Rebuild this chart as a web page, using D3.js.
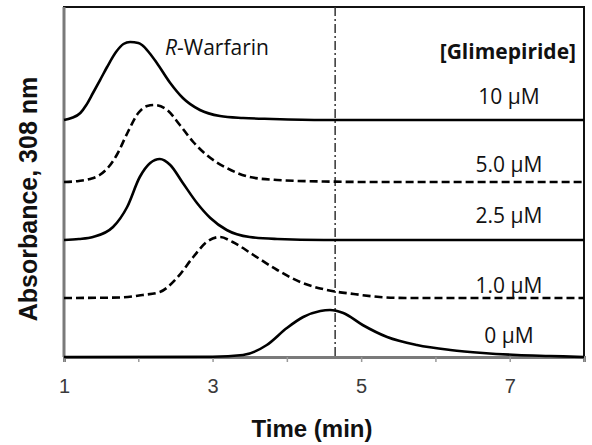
<!DOCTYPE html>
<html>
<head>
<meta charset="utf-8">
<script src="https://cdn.jsdelivr.net/npm/d3@7"></script>
<style>
body { margin: 0; background: #fff; }
</style>
</head>
<body>
<div id="chart"></div>
<script>
// x axis (min)
var timeTicks = [1, 2, 3, 4, 5, 6, 7, 8];
var timeLabels = [1, 3, 5, 7];

// glimepiride concentration of each trace, top trace first
var concLabels = ["10 µM", "5.0 µM", "2.5 µM", "1.0 µM", "0 µM"];
// stacked baseline of each trace (arbitrary absorbance units)
var offsets = [237, 175, 117, 59, 0];

// [time, signal above own baseline]
var trace10 = [[1.0, 0], [1.1, 2], [1.22, 7], [1.3, 15], [1.39, 27], [1.5, 42], [1.58, 53], [1.7, 68],
  [1.8, 76], [1.89, 78], [2.0, 77], [2.05, 75], [2.15, 67], [2.25, 57], [2.43, 37], [2.6, 22],
  [2.83, 10], [3.1, 4], [3.41, 2], [3.8, 1], [4.5, 0], [8.0, 0]];
var trace5 = [[1.0, 0], [1.2, 1], [1.35, 3], [1.48, 7], [1.6, 15], [1.71, 27], [1.86, 50], [2.0, 69],
  [2.12, 76], [2.22, 77], [2.39, 72], [2.56, 57], [2.74, 40], [2.92, 27], [3.19, 14], [3.5, 5],
  [3.87, 2], [4.5, 0.5], [5.2, 0], [8.0, 0]];
var trace25 = [[1.0, 0], [1.2, 1], [1.39, 3], [1.66, 13], [1.85, 33], [2.02, 63], [2.16, 77], [2.29, 81],
  [2.43, 75], [2.6, 57], [2.79, 37], [2.97, 22], [3.19, 10], [3.5, 3], [3.87, 1], [4.5, 0], [8.0, 0]];
var trace1 = [[1.0, 0], [1.75, 0.5], [2.06, 3], [2.29, 6], [2.52, 20], [2.74, 41], [2.92, 56], [3.1, 61],
  [3.27, 56], [3.55, 43], [3.87, 28], [4.18, 16], [4.54, 8], [4.9, 4], [5.25, 1], [5.6, 0], [8.0, 0]];
var trace0 = [[1.0, 0], [3.0, 0.3], [3.41, 2], [3.73, 12], [4.0, 29], [4.22, 40], [4.45, 46], [4.58, 47],
  [4.76, 44], [5.02, 32], [5.35, 20], [5.75, 12], [6.2, 7], [6.64, 4], [7.1, 2], [7.54, 1], [8.0, 0]];
var traces = [trace10, trace5, trace25, trace1, trace0];
var dashed = [false, true, false, true, false];

// dash-dot reference line (min)
var markerTime = 4.65;

window.w = 592;
window.h = 445;
var margin = {left: 64, right: 8, top: 7, bottom: 88};

const chart = d3.select("#chart")
  .append("svg")
  .attr("width", w)
  .attr("height", h);

var xScale = d3.scaleLinear()
  .domain([1, 8])
  .range([margin.left, w - margin.right]);

var yScale = d3.scaleLinear()
  .domain([0, 350])
  .range([h - margin.bottom, margin.top]);

// plot frame
chart.append("rect")
  .attr("x", xScale(1))
  .attr("y", yScale(350))
  .attr("width", xScale(8) - xScale(1))
  .attr("height", yScale(0) - yScale(350))
  .attr("fill", "none")
  .attr("stroke", "#111")
  .attr("stroke-width", 2);

// x axis, ticks only at every minute, labels on odd ones
var xAxis = d3.axisBottom()
  .scale(xScale)
  .tickValues(timeTicks)
  .tickSize(5)
  .tickFormat(function(d) { return timeLabels.indexOf(d) >= 0 ? d : ""; });

var gx = chart.append("g")
  .attr("transform", "translate(0," + yScale(0) + ")")
  .call(xAxis);
gx.select(".domain").attr("stroke", "#7a7a7a").attr("stroke-width", 3);
gx.selectAll(".tick line").attr("stroke", "#9a9a9a").attr("stroke-width", 1.5);
gx.selectAll(".tick text")
  .attr("y", 22)
  .attr("dy", "0.71em")
  .attr("fill", "#3a3a3a")
  .style("font-family", "'Liberation Sans', Arial, sans-serif")
  .style("font-size", "20px");

// y axis line, no ticks
chart.append("line")
  .attr("x1", xScale(1)).attr("x2", xScale(1))
  .attr("y1", yScale(350)).attr("y2", yScale(0))
  .attr("stroke", "#7a7a7a")
  .attr("stroke-width", 3);

// dash-dot marker
chart.append("line")
  .attr("x1", xScale(markerTime)).attr("x2", xScale(markerTime))
  .attr("y1", yScale(350)).attr("y2", yScale(0))
  .attr("stroke", "#333")
  .attr("stroke-width", 1.5)
  .attr("stroke-dasharray", "9,3,2,3");

function drawTrace(data, offset, isDashed) {
  chart.append("path")
    .datum(data)
    .attr("fill", "none")
    .attr("stroke", "#000")
    .attr("stroke-width", 2.6)
    .attr("stroke-dasharray", isDashed ? "8,4" : null)
    .attr("d", d3.line()
      .curve(d3.curveMonotoneX)
      .x(function(d) { return xScale(d[0]); })
      .y(function(d) { return yScale(d[1] + offset); })
    );
}

traces.forEach(function(t, i) {
  drawTrace(t, offsets[i], dashed[i]);
});

// concentration labels, pixel lift above each baseline
var labelLift = [16, 10, 17, 5, 14];
var labelFont = "'Open Sans', 'Noto Sans', sans-serif";

chart.selectAll(".conc")
  .data(concLabels)
  .enter()
  .append("text")
  .attr("class", "conc")
  .attr("x", 509)
  .attr("y", function(d, i) { return yScale(offsets[i]) - labelLift[i]; })
  .attr("text-anchor", "middle")
  .style("font-family", labelFont)
  .style("font-size", "21px")
  .attr("fill", "#111")
  .text(function(d) { return d; });

chart.append("text")
  .attr("x", 576)
  .attr("y", 59)
  .attr("text-anchor", "end")
  .style("font-family", labelFont)
  .style("font-size", "21px")
  .style("font-weight", "bold")
  .attr("fill", "#111")
  .text("[Glimepiride]");

var warf = chart.append("text")
  .attr("x", 165)
  .attr("y", 55)
  .style("font-family", labelFont)
  .style("font-size", "21px")
  .attr("fill", "#111");
warf.append("tspan").style("font-style", "italic").text("R");
warf.append("tspan").text("-Warfarin");

// axis titles
chart.append("text")
  .attr("x", 312)
  .attr("y", 437)
  .attr("text-anchor", "middle")
  .style("font-family", "'Liberation Sans', Arial, sans-serif")
  .style("font-size", "24px")
  .style("font-weight", "bold")
  .attr("fill", "#111")
  .text("Time (min)");

chart.append("text")
  .attr("transform", "translate(37," + 199 + ") rotate(-90)")
  .attr("text-anchor", "middle")
  .style("font-family", "'Liberation Sans', Arial, sans-serif")
  .style("font-size", "25px")
  .style("font-weight", "bold")
  .attr("fill", "#111")
  .text("Absorbance, 308 nm");
</script>
</body>
</html>
